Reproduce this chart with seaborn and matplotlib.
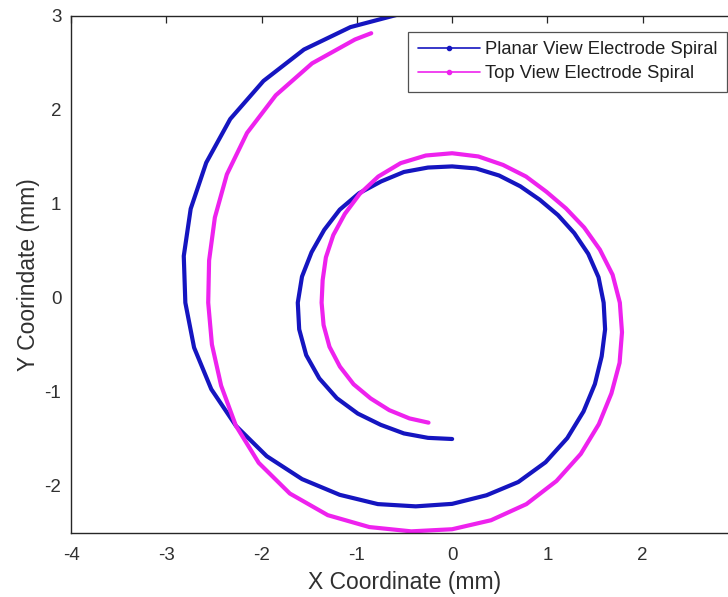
import numpy as np
import pandas as pd
import matplotlib
matplotlib.use("Agg")
import matplotlib.pyplot as plt
from matplotlib.lines import Line2D
import seaborn as sns

# ---- data, in polar form about the point (0, -0.05) mm ----
# sweep = degrees travelled clockwise from straight below the centre; radius in mm
spiral_center = (0.0, -0.05)

planar_sweep = [0, 10, 20, 30, 40, 50, 60, 70, 80, 90, 100, 110, 120, 130, 140, 150,
                160, 170, 180, 190, 200, 210, 220, 230, 240, 250, 260, 270, 280, 290,
                300, 310, 320, 330, 340, 350, 360, 370, 380, 390, 400, 410, 420, 430,
                440, 450, 460, 470, 480, 490, 500, 510, 520, 530]
planar_radius = [1.45, 1.46, 1.48, 1.50, 1.54, 1.58, 1.61, 1.63, 1.63, 1.62, 1.60, 1.57,
                 1.55, 1.54, 1.52, 1.49, 1.48, 1.46, 1.45, 1.45, 1.44, 1.43, 1.43, 1.45,
                 1.48, 1.52, 1.56, 1.59, 1.63, 1.67, 1.73, 1.80, 1.88, 1.96, 2.03, 2.08,
                 2.14, 2.20, 2.28, 2.36, 2.45, 2.54, 2.62, 2.69, 2.75, 2.80, 2.86, 2.92,
                 2.98, 3.04, 3.08, 3.11, 3.12, 3.12]

top_sweep = [11, 20, 30, 40, 50, 60, 70, 80, 90, 100, 110, 120, 130, 140, 150, 160,
             170, 180, 190, 200, 210, 220, 230, 240, 250, 260, 270, 280, 290, 300,
             310, 320, 330, 340, 350, 360, 370, 380, 390, 400, 410, 420, 430, 440,
             450, 460, 470, 480, 490, 500, 510, 520, 523.5]
top_radius = [1.30, 1.31, 1.32, 1.33, 1.35, 1.36, 1.37, 1.37, 1.37, 1.38, 1.41, 1.44,
              1.47, 1.51, 1.55, 1.58, 1.59, 1.59, 1.58, 1.56, 1.55, 1.54, 1.56, 1.60,
              1.65, 1.71, 1.76, 1.81, 1.87, 1.93, 2.01, 2.10, 2.19, 2.28, 2.35, 2.41,
              2.47, 2.54, 2.61, 2.65, 2.65, 2.62, 2.58, 2.56, 2.56, 2.59, 2.65, 2.73,
              2.81, 2.88, 2.94, 2.98, 2.99]

series_names = ["Planar View Electrode Spiral", "Top View Electrode Spiral"]
series_colors = ["#1515c0", "#ee22ee"]
x_ticks = [-4, -3, -2, -1, 0, 1, 2, 3]
x_tick_labels = ["-4", "-3", "-2", "-1", "0", "1", "2", ""]
y_ticks = [-2, -1, 0, 1, 2, 3]
y_tick_labels = ["-2", "-1", "0", "1", "2", "3"]


def to_xy(sweep, radius):
    ang = np.deg2rad(-90.0 - np.asarray(sweep, dtype=float))
    r = np.asarray(radius, dtype=float)
    return spiral_center[0] + r * np.cos(ang), spiral_center[1] + r * np.sin(ang)


px, py = to_xy(planar_sweep, planar_radius)
tx, ty = to_xy(top_sweep, top_radius)

df = pd.concat([
    pd.DataFrame({"x": px, "y": py, "series": series_names[0]}),
    pd.DataFrame({"x": tx, "y": ty, "series": series_names[1]}),
], ignore_index=True)

sns.set_theme(style="white")
plt.rcParams["font.family"] = ["Liberation Sans", "DejaVu Sans"]
plt.rcParams["axes.unicode_minus"] = False

W, H = 728, 597
fig = plt.figure(figsize=(W / 100, H / 100), dpi=100)
left, right, top, bottom = 71, 738, 16, 533
ax = fig.add_axes([left / W, (H - bottom) / H, (right - left) / W, (bottom - top) / H])

sns.lineplot(data=df, x="x", y="y", hue="series", palette=dict(zip(series_names, series_colors)),
             sort=False, estimator=None, linewidth=3.0, ax=ax, legend=False,
             solid_joinstyle="round", solid_capstyle="round")

ax.set_xlim(-4, 3)
ax.set_ylim(-2.5, 3)
ax.set_xticks(x_ticks)
ax.set_xticklabels(x_tick_labels)
ax.set_yticks(y_ticks)
ax.set_yticklabels(y_tick_labels)
ax.tick_params(direction="in", length=5, width=0.9, top=True, right=True,
               labelsize=13.5, labelcolor="#303030", color="#262626")
ax.tick_params(axis="x", pad=10)
ax.tick_params(axis="y", pad=7)
for s in ax.spines.values():
    s.set_visible(True)
    s.set_color("#262626")
    s.set_linewidth(1.0)

ax.set_xlabel("X Coordinate (mm)", fontsize=16.5, color="#303030", labelpad=5)
ax.set_ylabel("Y Coorindate (mm)", fontsize=16.5, color="#303030", labelpad=3)

handles = [Line2D([0], [0], color=c, lw=1.2, marker=".", markersize=6) for c in series_colors]
leg = ax.legend(handles, series_names, loc="upper right",
                bbox_to_anchor=(727 / W, 1 - 32 / H), bbox_transform=fig.transFigure,
                borderaxespad=0, fontsize=13.2, frameon=True, fancybox=False,
                edgecolor="#262626", handlelength=3.4, handletextpad=0.3,
                borderpad=0.5, labelspacing=0.4, numpoints=1)
leg.get_frame().set_linewidth(0.9)
for t in leg.get_texts():
    t.set_color("#202020")

fig.savefig("out.png", dpi=100)
